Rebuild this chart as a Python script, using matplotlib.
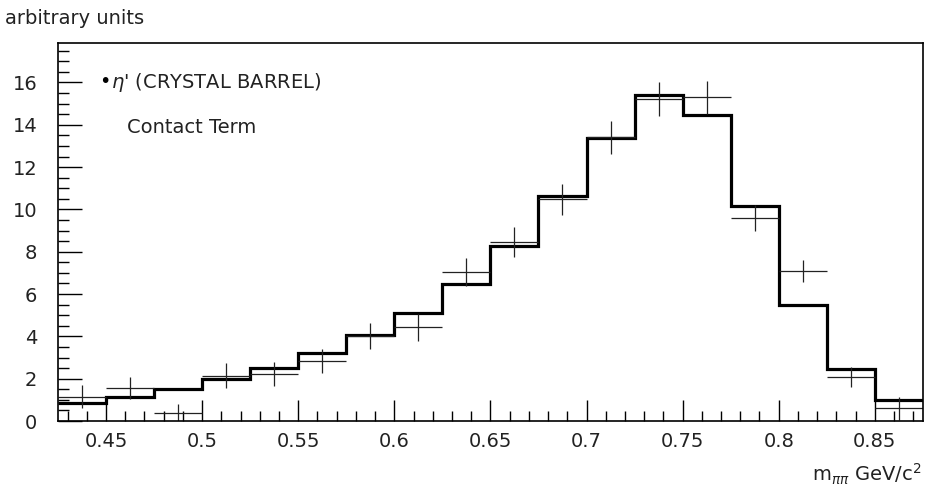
import numpy as np
import matplotlib
matplotlib.use("Agg")
import matplotlib.pyplot as plt
from matplotlib.ticker import MultipleLocator

# histogram (contact term), bins of 0.025 from 0.425 to 0.875
bin_edges = [0.425, 0.45, 0.475, 0.5, 0.525, 0.55, 0.575, 0.6, 0.625, 0.65,
             0.675, 0.7, 0.725, 0.75, 0.775, 0.8, 0.825, 0.85, 0.875]
hist_vals = [0.85, 1.13, 1.53, 1.98, 2.50, 3.20, 4.05, 5.09, 6.47, 8.28,
             10.63, 13.38, 15.41, 14.47, 10.16, 5.46, 2.46, 0.99]

# crystal barrel data points
data_x = [0.4375, 0.4625, 0.4875, 0.5125, 0.5375, 0.5625, 0.5875, 0.6125, 0.6375,
          0.6625, 0.6875, 0.7125, 0.7375, 0.7625, 0.7875, 0.8125, 0.8375, 0.8625]
data_y = [1.15, 1.57, 0.36, 2.13, 2.22, 2.82, 4.03, 4.43, 7.05,
          8.46, 10.47, 13.40, 15.22, 15.29, 9.60, 7.10, 2.09, 0.60]
data_err = [0.53, 0.53, 0.45, 0.59, 0.57, 0.57, 0.61, 0.63, 0.67,
            0.69, 0.72, 0.77, 0.81, 0.78, 0.63, 0.53, 0.48, 0.53]
half_width = 0.0125

plt.rcParams['font.family'] = 'DejaVu Sans'
fs = 14
fig = plt.figure(figsize=(9.29, 4.92), dpi=100)
ax = fig.add_axes([0.0624, 0.1443, 0.931, 0.7677])

ax.stairs(hist_vals, bin_edges, color='black', linewidth=2.3, baseline=None)
ax.errorbar(data_x, data_y, xerr=half_width, yerr=data_err, fmt='none',
            ecolor='#222222', elinewidth=0.9, capsize=0)

ax.set_xlim(0.425, 0.875)
ax.set_ylim(0, 17.85)
ax.xaxis.set_minor_locator(MultipleLocator(0.01))
ax.yaxis.set_minor_locator(MultipleLocator(0.5))
ax.set_xticks([0.45, 0.5, 0.55, 0.6, 0.65, 0.7, 0.75, 0.8, 0.85])
ax.set_xticklabels(['0.45', '0.5', '0.55', '0.6', '0.65', '0.7', '0.75', '0.8', '0.85'])
ax.set_yticks(range(0, 17, 2))

ax.tick_params(axis='both', which='both', direction='in', top=False, right=False,
               labelsize=fs, colors='black', labelcolor='#222222')
ax.tick_params(axis='x', which='major', length=15, width=1, pad=8)
ax.tick_params(axis='x', which='minor', length=7.5, width=1)
ax.tick_params(axis='y', which='major', length=17, width=1, pad=15)
ax.tick_params(axis='y', which='minor', length=8, width=1)
for s in ax.spines.values():
    s.set_linewidth(1.2)

fig.text(5 / 929, 1 - 18 / 492, 'arbitrary units', fontsize=fs, va='center',
         ha='left', color='#222222')
ax.text(0.4465, 16.05, "•", fontsize=fs, va='center', ha='left')
ax.text(0.4525, 16.0, r"$\eta$' (CRYSTAL BARREL)", fontsize=fs, va='center',
        ha='left', color='#222222')
ax.text(0.461, 13.85, 'Contact Term', fontsize=fs, va='center', ha='left',
        color='#222222')
fig.text(922 / 929, 1 - 474 / 492, r"m$_{\pi\pi}$ GeV/c$^2$", fontsize=fs,
         va='center', ha='right', color='#222222')

fig.savefig('out.png', dpi=100)
